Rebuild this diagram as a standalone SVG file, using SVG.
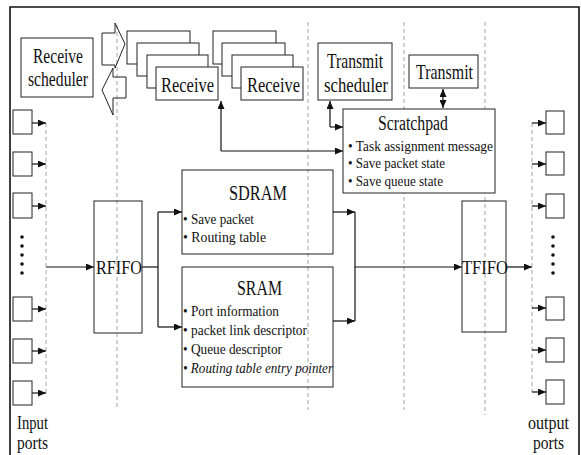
<svg xmlns="http://www.w3.org/2000/svg" width="581" height="455" viewBox="0 0 581 455">
<style>
.box{fill:none;stroke:#222;stroke-width:1}
.wbox{fill:#fff;stroke:#222;stroke-width:1}
.conn{fill:none;stroke:#111;stroke-width:1.2}
.grid{fill:none;stroke:#8a8a8a;stroke-width:0.8;stroke-dasharray:4 3}
.frame{fill:none;stroke:#111;stroke-width:1.6}
.t{font-family:"Liberation Serif","Times New Roman",serif;fill:#111}
.h{font-size:21px}
.s{font-size:15.5px}
.m{font-size:19px}
.dot{fill:#111}
</style>
<defs>
<marker id="ah" viewBox="0 0 8 7" refX="8" refY="3.5" markerWidth="8" markerHeight="7" markerUnits="userSpaceOnUse" orient="auto-start-reverse">
<path d="M0,0 L8,3.5 L0,7 z" fill="#111"/>
</marker>
</defs>

<g id="frame">
<path class="frame" d="M10,455 V7 H579 V455"/>
</g>

<g id="guides">
<line class="grid" x1="117" y1="25" x2="117" y2="410"/>
<line class="grid" x1="308" y1="22" x2="308" y2="410"/>
<line class="grid" x1="404" y1="22" x2="404" y2="410"/>
<line class="grid" x1="485" y1="22" x2="485" y2="415"/>
</g>

<g id="connectors">
<line class="grid" x1="46" y1="123" x2="46" y2="393"/>
<line class="conn" x1="32" y1="123" x2="46" y2="123" marker-end="url(#ah)"/>
<line class="conn" x1="32" y1="164" x2="46" y2="164" marker-end="url(#ah)"/>
<line class="conn" x1="32" y1="206" x2="46" y2="206" marker-end="url(#ah)"/>
<line class="conn" x1="32" y1="309" x2="46" y2="309" marker-end="url(#ah)"/>
<line class="conn" x1="32" y1="351" x2="46" y2="351" marker-end="url(#ah)"/>
<line class="conn" x1="32" y1="393" x2="46" y2="393" marker-end="url(#ah)"/>
<line class="conn" x1="46" y1="267" x2="94" y2="267" marker-end="url(#ah)"/>
<path class="conn" d="M142,267 H158"/>
<path class="conn" d="M158,212 V327"/>
<line class="conn" x1="158" y1="212" x2="182" y2="212" marker-end="url(#ah)"/>
<line class="conn" x1="158" y1="327" x2="182" y2="327" marker-end="url(#ah)"/>
<line class="conn" x1="333" y1="212" x2="355" y2="212" marker-end="url(#ah)"/>
<line class="conn" x1="333" y1="321" x2="355" y2="321" marker-end="url(#ah)"/>
<path class="conn" d="M355,212 V321"/>
<line class="conn" x1="355" y1="267" x2="462" y2="267" marker-end="url(#ah)"/>
<line class="conn" x1="506" y1="267" x2="532" y2="267" marker-end="url(#ah)"/>
<line class="grid" x1="532" y1="123" x2="532" y2="392"/>
<line class="conn" x1="532" y1="123" x2="546" y2="123" marker-end="url(#ah)"/>
<line class="conn" x1="532" y1="164" x2="546" y2="164" marker-end="url(#ah)"/>
<line class="conn" x1="532" y1="206" x2="546" y2="206" marker-end="url(#ah)"/>
<line class="conn" x1="532" y1="308" x2="546" y2="308" marker-end="url(#ah)"/>
<line class="conn" x1="532" y1="350" x2="546" y2="350" marker-end="url(#ah)"/>
<line class="conn" x1="532" y1="392" x2="546" y2="392" marker-end="url(#ah)"/>
<path class="conn" d="M330,127 V101" marker-end="url(#ah)"/>
<line class="conn" x1="330" y1="127" x2="343" y2="127" marker-end="url(#ah)"/>
<path class="conn" d="M221,151 V101" marker-end="url(#ah)"/>
<line class="conn" x1="221" y1="151" x2="343" y2="151" marker-end="url(#ah)"/>
<line class="conn" x1="443" y1="89" x2="443" y2="108" marker-start="url(#ah)" marker-end="url(#ah)"/>
</g>

<g id="receive-scheduler">
<rect class="wbox" x="21" y="38" width="72" height="59"/>
<text class="t h" x="33" y="63" textLength="50" lengthAdjust="spacingAndGlyphs">Receive</text>
<text class="t h" x="28" y="86" textLength="60" lengthAdjust="spacingAndGlyphs">scheduler</text>
</g>

<g id="sched-arrows">
<polygon class="box" points="102,33 115,33 115,23 125,44 115,68 115,65 102,65"/>
<polygon class="box" points="126,77 113,77 113,68 102,90 113,115 113,98 126,98"/>
</g>

<g id="receive-1">
<rect class="wbox" x="127" y="31" width="63" height="33"/>
<rect class="wbox" x="137" y="43" width="62" height="33"/>
<rect class="wbox" x="147" y="55" width="61" height="33"/>
<rect class="wbox" x="156" y="67" width="62" height="33"/>
<text class="t h" x="161" y="92" textLength="53" lengthAdjust="spacingAndGlyphs">Receive</text>
</g>

<g id="receive-2">
<rect class="wbox" x="213" y="31" width="63" height="33"/>
<rect class="wbox" x="222" y="43" width="63" height="33"/>
<rect class="wbox" x="232" y="55" width="61" height="33"/>
<rect class="wbox" x="241" y="67" width="62" height="33"/>
<text class="t h" x="247" y="92" textLength="53" lengthAdjust="spacingAndGlyphs">Receive</text>
</g>

<g id="transmit-scheduler">
<rect class="wbox" x="318" y="43" width="74" height="57"/>
<text class="t h" x="327" y="68" textLength="56" lengthAdjust="spacingAndGlyphs">Transmit</text>
<text class="t h" x="324" y="92" textLength="64" lengthAdjust="spacingAndGlyphs">scheduler</text>
</g>

<g id="transmit">
<rect class="wbox" x="409" y="55" width="69" height="33"/>
<text class="t h" x="416" y="79" textLength="57" lengthAdjust="spacingAndGlyphs">Transmit</text>
</g>

<g id="scratchpad">
<rect class="wbox" x="343" y="109" width="152" height="84"/>
<text class="t" style="font-size:20px" x="378" y="130" textLength="70" lengthAdjust="spacingAndGlyphs">Scratchpad</text>
<text class="t s" x="348" y="151" textLength="145" lengthAdjust="spacingAndGlyphs">• Task assignment message</text>
<text class="t s" x="348" y="168" textLength="97" lengthAdjust="spacingAndGlyphs">• Save packet state</text>
<text class="t s" x="348" y="186" textLength="95" lengthAdjust="spacingAndGlyphs">• Save queue state</text>
</g>

<g id="rfifo">
<rect class="box" x="94" y="201" width="48" height="132"/>
<text class="t m" x="96" y="274" textLength="46" lengthAdjust="spacingAndGlyphs">RFIFO</text>
</g>

<g id="sdram">
<rect class="box" x="182" y="170" width="151" height="84"/>
<text class="t h" x="229" y="200" textLength="58" lengthAdjust="spacingAndGlyphs">SDRAM</text>
<text class="t s" x="183" y="224" textLength="71" lengthAdjust="spacingAndGlyphs">• Save packet</text>
<text class="t s" x="183" y="242" textLength="83" lengthAdjust="spacingAndGlyphs">• Routing table</text>
</g>

<g id="sram">
<rect class="box" x="182" y="267" width="151" height="120"/>
<text class="t h" x="237" y="295" textLength="45" lengthAdjust="spacingAndGlyphs">SRAM</text>
<text class="t s" x="183" y="316" textLength="96" lengthAdjust="spacingAndGlyphs">• Port information</text>
<text class="t s" x="183" y="335" textLength="124" lengthAdjust="spacingAndGlyphs">• packet link descriptor</text>
<text class="t s" x="183" y="354" textLength="99" lengthAdjust="spacingAndGlyphs">• Queue descriptor</text>
<text class="t s" x="183" y="373" textLength="150" lengthAdjust="spacingAndGlyphs" style="font-style:italic">• Routing table entry pointer</text>
</g>

<g id="tfifo">
<rect class="box" x="462" y="201" width="44" height="131"/>
<text class="t m" x="462" y="274" textLength="46" lengthAdjust="spacingAndGlyphs">TFIFO</text>
</g>

<g id="input-ports">
<rect class="box" x="13" y="110" width="19" height="24"/>
<rect class="box" x="13" y="152" width="19" height="24"/>
<rect class="box" x="13" y="193" width="19" height="25"/>
<circle class="dot" cx="22" cy="237" r="1.8"/>
<circle class="dot" cx="22" cy="246" r="1.8"/>
<circle class="dot" cx="22" cy="255" r="1.8"/>
<circle class="dot" cx="22" cy="264" r="1.8"/>
<circle class="dot" cx="22" cy="273" r="1.8"/>
<rect class="box" x="13" y="297" width="19" height="24"/>
<rect class="box" x="13" y="339" width="19" height="24"/>
<rect class="box" x="13" y="381" width="19" height="24"/>
<text class="t m" x="17" y="429" textLength="31" lengthAdjust="spacingAndGlyphs">Input</text>
<text class="t m" x="17" y="449" textLength="31" lengthAdjust="spacingAndGlyphs">ports</text>
</g>

<g id="output-ports">
<rect class="box" x="546" y="111" width="18" height="23"/>
<rect class="box" x="546" y="152" width="18" height="23"/>
<rect class="box" x="546" y="194" width="18" height="24"/>
<circle class="dot" cx="553" cy="237" r="1.8"/>
<circle class="dot" cx="553" cy="246" r="1.8"/>
<circle class="dot" cx="553" cy="255" r="1.8"/>
<circle class="dot" cx="553" cy="264" r="1.8"/>
<circle class="dot" cx="553" cy="273" r="1.8"/>
<rect class="box" x="546" y="297" width="18" height="23"/>
<rect class="box" x="546" y="338" width="18" height="24"/>
<rect class="box" x="546" y="380" width="18" height="24"/>
<text class="t m" x="528" y="429" textLength="41" lengthAdjust="spacingAndGlyphs">output</text>
<text class="t m" x="533" y="449" textLength="31" lengthAdjust="spacingAndGlyphs">ports</text>
</g>
</svg>
